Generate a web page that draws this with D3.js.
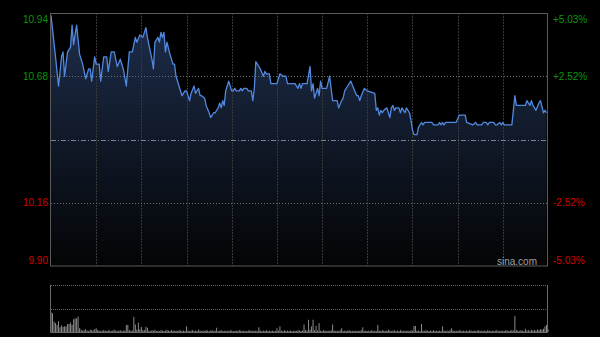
<!DOCTYPE html>
<html>
<head>
<meta charset="utf-8">
<script src="https://cdn.jsdelivr.net/npm/d3@7"></script>
<style>
  body { margin: 0; background: #000; }
  #chart-area { width: 600px; height: 337px; overflow: hidden; }
  text { font-family: "Liberation Sans", Arial, sans-serif; }
</style>
</head>
<body>
<div id="chart-area"></div>
<script>
// minute index since open (30-min grid, 330 minutes) and price read at that minute
var minutes = [0,3,5,7,8,9,11,13,14,15,17,19,21,23,25,26,27,29,30,32,33,35,37,38,40,42,44,46,48,50,
    52,54,56,57,59,61,63,64,67,68,69,71,72,73,74,75,76,77,79,81,82,83,85,87,89,90,92,93,95,96,
    98,99,100,102,103,105,106,108,109,111,112,113,114,115,116,118,120,121,122,123,125,126,127,128,130,131,133,134,135,136,
    138,139,141,142,143,145,146,150,152,154,156,157,162,164,165,166,167,170,172,173,174,175,177,178,179,180,183,185,187,190,
    191,193,194,195,197,199,201,203,204,205,206,208,210,215,216,217,218,219,220,221,223,224,225,226,227,228,229,231,232,233,
    235,236,238,239,240,241,243,244,246,247,248,250,253,254,257,258,259,260,261,262,264,269,271,275,276,280,282,283,286,287,
    289,290,291,294,295,296,298,299,300,301,306,308,309,315,316,318,319,320,322,324,325,327,328,329];
var prices = [10.93,10.76,10.64,10.76,10.78,10.68,10.78,10.80,10.89,10.81,10.89,10.77,10.73,10.67,10.71,10.71,10.66,10.76,10.73,10.73,10.66,10.76,10.76,10.70,10.78,10.78,10.72,10.75,10.71,10.64,
    10.78,10.78,10.84,10.82,10.85,10.84,10.88,10.84,10.75,10.71,10.82,10.84,10.82,10.86,10.84,10.86,10.78,10.82,10.77,10.73,10.73,10.68,10.64,10.60,10.62,10.62,10.58,10.61,10.64,10.61,
    10.63,10.60,10.60,10.59,10.56,10.53,10.51,10.53,10.53,10.55,10.57,10.55,10.58,10.56,10.62,10.66,10.62,10.62,10.63,10.62,10.62,10.63,10.62,10.63,10.63,10.62,10.62,10.58,10.63,10.74,
    10.72,10.71,10.68,10.70,10.69,10.69,10.65,10.65,10.69,10.68,10.68,10.65,10.65,10.63,10.65,10.63,10.65,10.65,10.72,10.62,10.65,10.59,10.63,10.60,10.66,10.63,10.63,10.68,10.58,10.58,
    10.55,10.58,10.59,10.62,10.64,10.66,10.63,10.60,10.60,10.58,10.60,10.63,10.62,10.61,10.54,10.55,10.52,10.54,10.53,10.54,10.55,10.53,10.51,10.55,10.56,10.54,10.55,10.55,10.53,10.55,
    10.53,10.55,10.53,10.50,10.46,10.44,10.44,10.47,10.49,10.48,10.49,10.49,10.49,10.48,10.48,10.49,10.48,10.49,10.48,10.49,10.49,10.49,10.52,10.52,10.49,10.48,10.49,10.48,10.48,10.49,
    10.49,10.48,10.49,10.49,10.48,10.48,10.49,10.48,10.49,10.48,10.48,10.60,10.56,10.56,10.58,10.56,10.58,10.56,10.54,10.57,10.58,10.53,10.54,10.53];

// volume per minute, in percent of the panel height
var volumes = [42,40,22,19,15,23,10,14,11,12,
    12,17,17,20,15,27,29,29,33,8,
    5,3,4,6,3,2,5,4,3,6,
    8,4,3,2,3,4,3,2,4,3,
    2,3,5,3,2,3,4,2,3,3,
    15,15,4,3,3,32,16,5,20,6,
    11,4,4,11,9,3,2,4,3,5,
    2,3,2,4,3,2,3,5,3,2,
    4,3,2,3,2,4,3,2,3,2,
    12,3,2,3,4,2,3,2,5,3,
    2,3,2,4,3,2,3,4,2,3,
    9,2,3,4,2,3,2,3,2,4,
    3,2,2,3,2,4,3,2,3,2,
    2,3,4,2,3,2,3,2,10,3,
    2,3,2,4,2,3,2,3,2,2,
    8,3,12,3,2,4,2,3,2,3,
    2,2,3,2,4,3,2,3,16,4,
    3,26,5,12,26,4,13,3,19,3,
    2,4,3,2,3,2,4,16,3,2,
    3,2,4,8,2,3,2,3,4,2,
    3,2,3,2,3,2,4,10,2,3,
    2,3,2,4,2,3,2,15,3,2,
    4,3,2,3,5,3,2,3,4,2,
    3,2,4,3,2,3,2,3,2,4,
    3,13,13,3,3,2,17,3,2,4,
    3,2,3,2,4,2,3,2,3,2,
    12,3,2,3,2,4,8,3,2,3,
    2,4,3,2,3,2,3,2,4,3,
    2,3,2,3,4,2,3,2,3,2,
    4,3,2,3,2,3,4,2,3,2,
    3,2,4,3,2,3,4,3,34,4,
    3,2,4,3,2,7,3,4,2,5,
    3,4,3,5,4,6,5,7,12,15,
    6];

var prevClose = 10.42;
var priceTicks = [10.94, 10.68, 10.42, 10.16, 9.90];
var pctLabels = ["+5.03%", "+2.52%", "", "-2.52%", "-5.03%"];
var gridMinutes = [30,60,90,120,150,180,210,240,270,300];

var margin = {left: 51, top: 13};
var width = 497;
var height = 253;
var volTop = 285, volBottom = 332;

var svg = d3.select('#chart-area')
    .append('svg')
        .attr('width', 600)
        .attr('height', 337)
        .style('background', '#000');

var x = d3.scaleLinear()
    .domain([0, 330])
    .range([margin.left, margin.left + width]);

var y = d3.scaleLinear()
    .domain([9.90, 10.94])
    .range([margin.top + height, margin.top]);

var yVol = d3.scaleLinear()
    .domain([0, 100])
    .range([volBottom, volTop]);

var data = minutes.map((m, i) => { return {m: m, p: prices[i]}; });

// gradient under the price line
var grad = svg.append('defs').append('linearGradient')
    .attr('id', 'fill')
    .attr('gradientUnits', 'userSpaceOnUse')
    .attr('x1', 0).attr('x2', 0)
    .attr('y1', margin.top).attr('y2', margin.top + height);
grad.append('stop').attr('offset', '0').attr('stop-color', '#1e2e4c');
grad.append('stop').attr('offset', '1').attr('stop-color', '#030405');

svg.append('path')
    .datum(data)
    .attr('fill', 'url(#fill)')
    .attr('d', d3.area()
        .x((d) => { return x(d.m); })
        .y0(margin.top + height)
        .y1((d) => { return y(d.p); }));

// vertical grid
svg.selectAll('.vgrid').data(gridMinutes).enter()
    .append('line')
    .attr('class', 'vgrid')
    .attr('x1', (d) => { return Math.round(x(d)) + 0.5; })
    .attr('x2', (d) => { return Math.round(x(d)) + 0.5; })
    .attr('y1', margin.top)
    .attr('y2', margin.top + height)
    .attr('stroke', '#383838')
    .attr('stroke-dasharray', '2,1');

// horizontal grid
svg.selectAll('.hgrid').data([10.68, 10.16]).enter()
    .append('line')
    .attr('class', 'hgrid')
    .attr('x1', margin.left)
    .attr('x2', margin.left + width)
    .attr('y1', (d) => { return Math.round(y(d)) + 0.5; })
    .attr('y2', (d) => { return Math.round(y(d)) + 0.5; })
    .attr('stroke', '#6e6e6e')
    .attr('stroke-dasharray', '1,2');

svg.append('line')
    .attr('x1', margin.left)
    .attr('x2', margin.left + width)
    .attr('y1', Math.round(y(prevClose)) + 0.5)
    .attr('y2', Math.round(y(prevClose)) + 0.5)
    .attr('stroke', '#7a8290')
    .attr('stroke-dasharray', '5,2,1,2');

// price line
svg.append('path')
    .datum(data)
    .attr('fill', 'none')
    .attr('stroke', '#5289e0')
    .attr('stroke-width', 1.3)
    .attr('stroke-linejoin', 'round')
    .attr('d', d3.line()
        .x((d) => { return x(d.m); })
        .y((d) => { return y(d.p); }));

// frame
svg.append('rect')
    .attr('x', margin.left - 0.5)
    .attr('y', margin.top + 0.5)
    .attr('width', width)
    .attr('height', height - 0.5)
    .attr('fill', 'none')
    .attr('stroke', '#5a5a5a');

// left price labels
svg.selectAll('.plabel').data(priceTicks).enter()
    .filter((d) => { return d !== prevClose; })
    .append('text')
    .attr('class', 'plabel')
    .attr('x', 48)
    .attr('y', (d) => { return Math.min(Math.max(y(d), 19), 260) + 3.5; })
    .attr('text-anchor', 'end')
    .attr('font-size', '10px')
    .attr('fill', (d) => { return d > prevClose ? '#0a960a' : '#d40000'; })
    .text((d) => { return d.toFixed(2); });

// right percent labels
svg.selectAll('.rlabel').data(priceTicks).enter()
    .append('text')
    .attr('class', 'rlabel')
    .attr('x', 553)
    .attr('y', (d) => { return Math.min(Math.max(y(d), 19), 260) + 3.5; })
    .attr('font-size', '10px')
    .attr('fill', (d) => { return d > prevClose ? '#0a960a' : '#d40000'; })
    .text((d, i) => { return pctLabels[i]; });

svg.append('text')
    .attr('x', 537)
    .attr('y', 265)
    .attr('text-anchor', 'end')
    .attr('font-size', '10px')
    .attr('fill', '#a0a0a0')
    .text('sina.com');

// volume panel
svg.selectAll('.vline').data([volTop, (volTop + volBottom) / 2]).enter()
    .append('line')
    .attr('class', 'vline')
    .attr('x1', margin.left)
    .attr('x2', margin.left + width)
    .attr('y1', (d) => { return Math.round(d) + 0.5; })
    .attr('y2', (d) => { return Math.round(d) + 0.5; })
    .attr('stroke', '#6a6a6a')
    .attr('stroke-dasharray', '1,1');

svg.selectAll('.vol').data(volumes).enter()
    .append('rect')
    .attr('class', 'vol')
    .attr('x', (d, i) => { return x(i) - 0.5; })
    .attr('y', (d) => { return yVol(d); })
    .attr('width', 1)
    .attr('height', (d) => { return volBottom - yVol(d); })
    .attr('fill', '#8a8a8a');

svg.append('path')
    .attr('d', 'M' + (margin.left - 0.5) + ',' + volTop + 'V' + (volBottom + 0.5)
        + 'H' + (margin.left + width - 0.5) + 'V' + volTop)
    .attr('fill', 'none')
    .attr('stroke', '#6a6a6a');
</script>
</body>
</html>
